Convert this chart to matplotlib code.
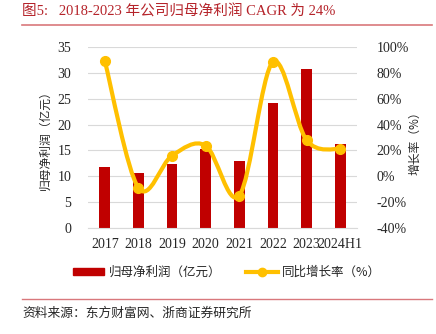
import matplotlib
matplotlib.use("Agg")
import matplotlib.pyplot as plt
import numpy as np
from matplotlib.path import Path
from matplotlib.patches import PathPatch
from matplotlib.lines import Line2D
from matplotlib.patches import Patch

plt.rcParams['font.family'] = ['Liberation Serif', 'Noto Sans CJK SC', 'DejaVu Sans']

categories = ["2017", "2018", "2019", "2020", "2021", "2022", "2023", "2024H1"]
profit = [11.8, 10.65, 12.4, 15.3, 12.9, 24.2, 30.8, 16.2]
growth = [89.2, -9.0, 16.0, 23.7, -14.9, 88.4, 28.0, 21.0]
left_ticks = [0, 5, 10, 15, 20, 25, 30, 35]
right_ticks = [-40, -20, 0, 20, 40, 60, 80, 100]

BAR = "#C00000"
LINE = "#FFC000"
TXT = "#262626"

W, H = 436, 334
fig = plt.figure(figsize=(W / 100, H / 100), dpi=100)

ax = fig.add_axes([88 / W, 1 - 228 / H, (357 - 88) / W, (228 - 47) / H])
x = np.arange(len(categories))
ax.bar(x, profit, width=0.32, color=BAR, zorder=2)
ax.set_xlim(-0.5, len(categories) - 0.5)
ax.set_ylim(0, 35)
ax.set_yticks(left_ticks)
ax.set_xticks(x)
ax.set_xticklabels(categories)
ax.grid(axis='y', color='#D9D9D9', linewidth=0.8, zorder=0)
ax.set_axisbelow(True)
for s in ax.spines.values():
    s.set_visible(False)
ax.spines['bottom'].set_visible(True)
ax.spines['bottom'].set_color('#D9D9D9')
ax.tick_params(axis='both', length=0, labelsize=10, colors=TXT, pad=12)
ax.tick_params(axis='x', pad=7)
ax.set_ylabel("归母净利润（亿元）", fontsize=8.5, color=TXT, family=['Noto Sans CJK SC'])
ax.yaxis.set_label_coords((52 - 88) / 269, (228 - 137) / 181)

ax2 = ax.twinx()
ax2.set_ylim(-40, 100)
ax2.set_yticks(right_ticks)
ax2.set_yticklabels([f"{t}%" for t in right_ticks])
for s in ax2.spines.values():
    s.set_visible(False)
ax2.tick_params(axis='y', length=0, labelsize=10, colors=TXT, pad=14)
ax2.set_ylabel("增长率（%）", fontsize=8.5, color=TXT, family=['Noto Sans CJK SC'], rotation=90)
ax2.yaxis.set_label_coords((408 - 88) / 269, (228 - 140) / 181)

# smoothed line (Catmull-Rom to Bezier) through the data points
pts = np.column_stack([x, growth]).astype(float)
verts = [tuple(pts[0])]
codes = [Path.MOVETO]
n = len(pts)
for i in range(n - 1):
    p0 = pts[i - 1] if i > 0 else pts[i]
    p1 = pts[i]
    p2 = pts[i + 1]
    p3 = pts[i + 2] if i + 2 < n else pts[i + 1]
    c1 = p1 + (p2 - p0) / 6.0
    c2 = p2 - (p3 - p1) / 6.0
    verts += [tuple(c1), tuple(c2), tuple(p2)]
    codes += [Path.CURVE4] * 3
ax2.add_patch(PathPatch(Path(verts, codes), fill=False, edgecolor=LINE, linewidth=3, zorder=3,
                        capstyle='round', joinstyle='round'))
ax2.plot(x, growth, linestyle='none', marker='o', markersize=7, color=LINE, zorder=4)

# legend
handles = [Patch(facecolor=BAR, edgecolor=BAR),
           Line2D([0], [0], color=LINE, linewidth=3, marker='o', markersize=6)]
leg = fig.legend(handles, ["归母净利润（亿元）", "同比增长率（%）"], loc='center',
                 bbox_to_anchor=(227 / W, 1 - 272 / H), ncol=2, frameon=False,
                 prop={'family': ['Noto Sans CJK SC'], 'size': 9},
                 handlelength=2.5, handleheight=0.5, columnspacing=2.0, handletextpad=0.35)
for t in leg.get_texts():
    t.set_color(TXT)

# title and decorations
fig.text(22 / W, 1 - 12 / H, "图5:   2018-2023 年公司归母净利润 CAGR 为 24%", fontsize=10.5,
         color="#B5232A", va='center', ha='left')
fig.add_artist(Line2D([22 / W, 432 / W], [1 - 24.5 / H, 1 - 24.5 / H], color="#D9787C", linewidth=1.2))
fig.add_artist(Line2D([22 / W, 432 / W], [1 - 299 / H, 1 - 299 / H], color="#D9787C", linewidth=1.0))
fig.text(22 / W, 1 - 313 / H, "资料来源：东方财富网、浙商证券研究所", fontsize=9.2, color=TXT,
         va='center', ha='left', family=['Noto Sans CJK SC'])

fig.savefig("out.png", dpi=100)
